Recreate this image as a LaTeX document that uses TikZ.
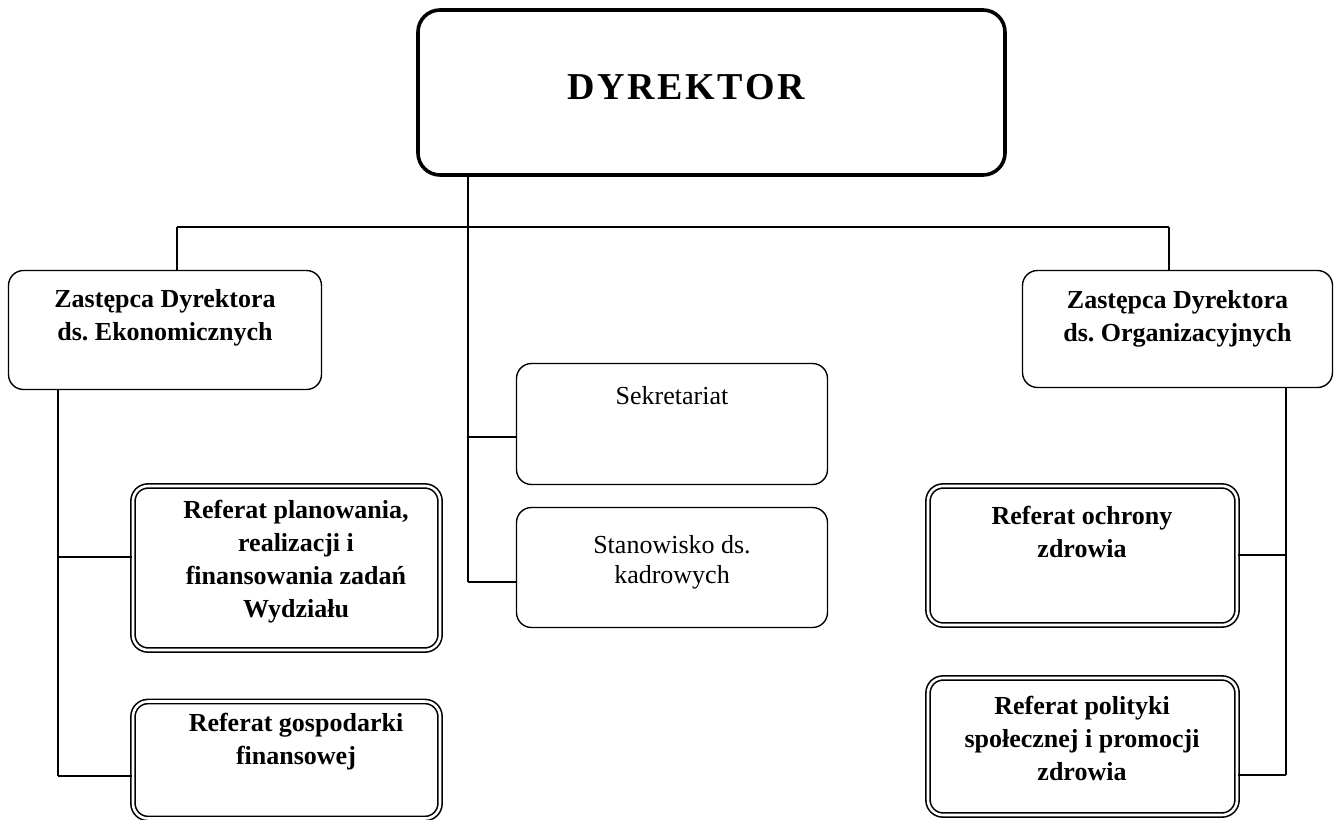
\documentclass[tikz,border=0pt]{standalone}
\usepackage{fontspec}
\setmainfont{Liberation Serif}
\frenchspacing
\begin{document}
\begin{tikzpicture}[x=1pt,y=-1pt,
  headbox/.style={draw, line width=3.6pt, rounded corners=22pt, inner sep=0},
  plainbox/.style={draw, line width=1.4pt, rounded corners=15pt, inner sep=0},
  dblbox/.style={draw, line width=1.6pt, double, double distance=2.6pt, rounded corners=15pt, inner sep=0},
  conn/.style={line width=1.3pt},
  boldtxt/.style={align=center, inner sep=0, anchor=base, font=\bfseries\fontsize{26}{33}\selectfont},
  regtxt/.style={align=center, inner sep=0, anchor=base, font=\fontsize{26}{30}\selectfont},
  headtxt/.style={inner sep=0, anchor=base, font=\bfseries\fontsize{38}{44}\selectfont\addfontfeature{LetterSpace=7}}
]
\useasboundingbox (0,0) rectangle (1338,819);
\fill[white] (0,0) rectangle (1338,819);

% director (text placed by its baseline; multi-line texts by their last line)
\node[headbox, minimum width=587pt, minimum height=165pt] (dyr) at (711.5,92.5) {};
\node[headtxt] (dyrt) at (686,99) {DYREKTOR};

% deputies
\node[plainbox, minimum width=313pt, minimum height=119pt] (zl) at (165,330) {};
\node[boldtxt] (zlt) at (165,340) {Zastępca Dyrektora\\ds. Ekonomicznych};
\node[plainbox, minimum width=310pt, minimum height=117pt] (zr) at (1177.5,329) {};
\node[boldtxt] (zrt) at (1177.5,341) {Zastępca Dyrektora\\ds. Organizacyjnych};

% posts reporting to the director
\node[plainbox, minimum width=311pt, minimum height=121pt] (sek) at (672,424) {};
\node[regtxt] (sekt) at (672,404) {Sekretariat};
\node[plainbox, minimum width=311pt, minimum height=120pt] (stan) at (672,567.5) {};
\node[regtxt] (stant) at (672,583) {Stanowisko ds.\\kadrowych};

% economic departments
\node[dblbox, minimum width=307pt, minimum height=164pt] (rp) at (286.5,568) {};
\node[boldtxt] (rpt) at (296,617) {Referat planowania,\\realizacji i\\finansowania zadań\\Wydziału};
\node[dblbox, minimum width=307pt, minimum height=117pt] (rg) at (286.5,760) {};
\node[boldtxt] (rgt) at (296,764) {Referat gospodarki\\finansowej};

% organisational departments
\node[dblbox, minimum width=309pt, minimum height=139pt] (ro) at (1082.5,555.5) {};
\node[boldtxt] (rot) at (1082,557) {Referat ochrony\\zdrowia};
\node[dblbox, minimum width=309pt, minimum height=137pt] (rpo) at (1082.5,746.5) {};
\node[boldtxt] (rpot) at (1082,780) {Referat polityki\\społecznej i promocji\\zdrowia};

% junction points
\coordinate (jm) at (468,227);
\coordinate (jl) at (177,227);
\coordinate (jr) at (1169,227);
\coordinate (ks) at (468,437);
\coordinate (kk) at (468,582);
\coordinate (el) at (58,557);
\coordinate (el2) at (58,776);
\coordinate (er) at (1286,555);
\coordinate (er2) at (1286,775);

% connectors
\draw[conn] (dyr.south -| jm) -- (kk);
\draw[conn] (jl) -- (jr);
\draw[conn] (jl) -- (jl |- zl.north);
\draw[conn] (jr) -- (jr |- zr.north);
\draw[conn] (ks) -- (ks -| sek.west);
\draw[conn] (kk) -- (kk -| stan.west);
\draw[conn] (zl.south -| el) -- (el2);
\draw[conn] (el) -- (el -| rp.west);
\draw[conn] (el2) -- (el2 -| rg.west);
\draw[conn] (zr.south -| er) -- (er2);
\draw[conn] (er) -- (er -| ro.east);
\draw[conn] (er2) -- (er2 -| rpo.east);
\end{tikzpicture}
\end{document}
